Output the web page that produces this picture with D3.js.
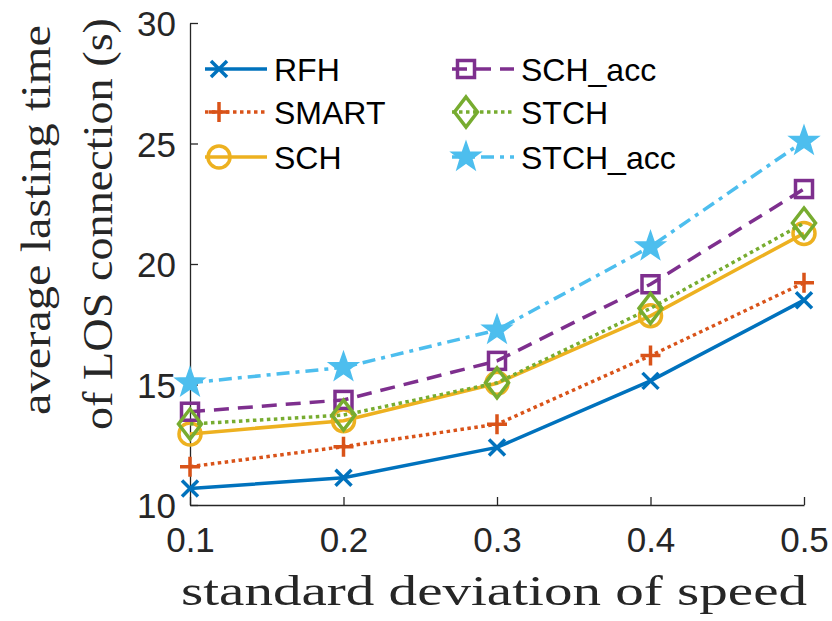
<!DOCTYPE html>
<html>
<head>
<meta charset="utf-8">
<script src="https://cdn.jsdelivr.net/npm/d3@7"></script>
<style>
  body { margin: 0; background: #fff; }
  svg { display: block; }
</style>
</head>
<body>
<div id="chart"></div>
<script>
// data
const xValues = [0.1, 0.2, 0.3, 0.4, 0.5];
const xTicks = [0.1, 0.2, 0.3, 0.4, 0.5];
const yTicks = [10, 15, 20, 25, 30];
const seriesNames = ["RFH", "SMART", "SCH", "SCH_acc", "STCH", "STCH_acc"];
const rfh = [10.68, 11.13, 12.39, 15.15, 18.5];
const smart = [11.59, 12.42, 13.35, 16.2, 19.22];
const sch = [12.95, 13.5, 15.05, 17.85, 21.27];
const schAcc = [13.87, 14.36, 15.98, 19.16, 23.11];
const stch = [13.36, 13.73, 15.07, 18.16, 21.7];
const stchAcc = [15.07, 15.71, 17.26, 20.72, 25.1];

const W = 832, H = 621;
const margin = { top: 23, right: 28, bottom: 116, left: 190 };
const width = 804 - margin.left;
const height = 505 - margin.top;

const styles = {
    RFH: { color: "#0072BD", dash: null, marker: "x" },
    SMART: { color: "#D95319", dash: "3.5,3.5", marker: "plus" },
    SCH: { color: "#EDB120", dash: null, marker: "circle" },
    SCH_acc: { color: "#7E2F8E", dash: "15,9", marker: "square" },
    STCH: { color: "#77AC30", dash: "3.5,3.5", marker: "diamond" },
    STCH_acc: { color: "#4DBEEE", dash: "13,6,4,6", marker: "star" }
};
const valuesByName = {
    RFH: rfh, SMART: smart, SCH: sch, SCH_acc: schAcc, STCH: stch, STCH_acc: stchAcc
};

const svg = d3.select("#chart").append("svg")
    .attr("width", W).attr("height", H);
const g = svg.append("g")
    .attr("transform", `translate(${margin.left},${margin.top})`);

const xScale = d3.scaleLinear().domain([0.1, 0.5]).range([0, width]);
const yScale = d3.scaleLinear().domain([10, 30]).range([height, 0]);

const axisColor = "#262626";
const tickFont = "'Liberation Sans', Arial, sans-serif";

// axes (ticks point inward)
const xAxis = g.append("g")
    .attr("transform", `translate(0,${height})`)
    .call(d3.axisBottom(xScale).tickValues(xTicks).tickSize(-8).tickSizeOuter(0).tickPadding(28)
        .tickFormat(d3.format(".1f")));
const yAxis = g.append("g")
    .call(d3.axisLeft(yScale).tickValues(yTicks).tickSize(-8).tickSizeOuter(0).tickPadding(14));

[xAxis, yAxis].forEach(a => {
    a.select(".domain").attr("stroke", axisColor).attr("stroke-width", 1.3);
    a.selectAll(".tick line").attr("stroke", axisColor).attr("stroke-width", 1.3);
    a.selectAll(".tick text")
        .attr("fill", axisColor)
        .style("font-family", tickFont)
        .style("font-size", "35px");
});
xAxis.selectAll(".tick text").attr("dy", "0.71em").attr("y", 22);
yAxis.selectAll(".tick text").attr("dy", "0.36em");

// marker drawing
function drawMarker(sel, type, color) {
    const sw = 3.5;
    if (type === "x") {
        const s = 8;
        sel.append("path").attr("d", `M${-s},${-s}L${s},${s}M${-s},${s}L${s},${-s}`)
            .attr("stroke", color).attr("stroke-width", sw).attr("fill", "none");
    } else if (type === "plus") {
        const s = 10;
        sel.append("path").attr("d", `M${-s},0L${s},0M0,${-s}L0,${s}`)
            .attr("stroke", color).attr("stroke-width", sw).attr("fill", "none");
    } else if (type === "circle") {
        sel.append("circle").attr("r", 11)
            .attr("stroke", color).attr("stroke-width", sw).attr("fill", "none");
    } else if (type === "square") {
        sel.append("rect").attr("x", -8.5).attr("y", -8.5).attr("width", 17).attr("height", 17)
            .attr("stroke", color).attr("stroke-width", sw).attr("fill", "none");
    } else if (type === "diamond") {
        sel.append("path").attr("d", "M0,-15L11.5,0L0,15L-11.5,0Z")
            .attr("stroke", color).attr("stroke-width", sw).attr("fill", "none");
    } else if (type === "star") {
        const pts = [];
        for (let i = 0; i < 10; i++) {
            const r = i % 2 === 0 ? 14.5 : 5.8;
            const a = -Math.PI / 2 + i * Math.PI / 5;
            pts.push([r * Math.cos(a), r * Math.sin(a)]);
        }
        sel.append("path").attr("d", "M" + pts.map(p => p.join(",")).join("L") + "Z")
            .attr("stroke", color).attr("stroke-width", 2).attr("fill", color)
            .attr("stroke-linejoin", "miter");
    }
}

const line = d3.line()
    .x((d, i) => xScale(xValues[i]))
    .y(d => yScale(d));

seriesNames.forEach(name => {
    const st = styles[name];
    const vals = valuesByName[name];
    g.append("path")
        .datum(vals)
        .attr("d", line)
        .attr("fill", "none")
        .attr("stroke", st.color)
        .attr("stroke-width", 3.5)
        .attr("stroke-dasharray", st.dash);
    vals.forEach((v, i) => {
        const m = g.append("g")
            .attr("transform", `translate(${xScale(xValues[i])},${yScale(v)})`);
        drawMarker(m, st.marker, st.color);
    });
});

// legend (two columns, no box)
const legendCols = [
    { x: 205, names: ["RFH", "SMART", "SCH"] },
    { x: 452, names: ["SCH_acc", "STCH", "STCH_acc"] }
];
const legendRows = [69, 112, 157];
legendCols.forEach(col => {
    col.names.forEach((name, r) => {
        const st = styles[name];
        const lg = svg.append("g").attr("transform", `translate(${col.x},${legendRows[r]})`);
        lg.append("line")
            .attr("x1", 0).attr("x2", 62).attr("y1", 0).attr("y2", 0)
            .attr("stroke", st.color).attr("stroke-width", 3.5)
            .attr("stroke-dasharray", st.dash);
        const m = lg.append("g").attr("transform", "translate(14,0)");
        drawMarker(m, st.marker, st.color);
        lg.append("text")
            .attr("x", 69).attr("y", 0).attr("dy", "0.36em")
            .style("font-family", tickFont)
            .style("font-size", "32px")
            .attr("fill", "#000")
            .text(name);
    });
});

// axis labels (serif)
const serif = "'Liberation Serif', 'DejaVu Serif', serif";
svg.append("text")
    .attr("x", 494).attr("y", 605)
    .attr("text-anchor", "middle")
    .style("font-family", serif)
    .style("font-size", "42px")
    .attr("textLength", 626)
    .attr("lengthAdjust", "spacingAndGlyphs")
    .attr("fill", axisColor)
    .text("standard deviation of speed");

svg.append("text")
    .attr("transform", "translate(50,220) rotate(-90)")
    .attr("text-anchor", "middle")
    .style("font-family", serif)
    .style("font-size", "42px")
    .attr("textLength", 390)
    .attr("lengthAdjust", "spacingAndGlyphs")
    .attr("fill", axisColor)
    .text("average lasting time");

svg.append("text")
    .attr("transform", "translate(112,224) rotate(-90)")
    .attr("text-anchor", "middle")
    .style("font-family", serif)
    .style("font-size", "42px")
    .attr("textLength", 412)
    .attr("lengthAdjust", "spacingAndGlyphs")
    .attr("fill", axisColor)
    .text("of LOS connection (s)");
</script>
</body>
</html>
